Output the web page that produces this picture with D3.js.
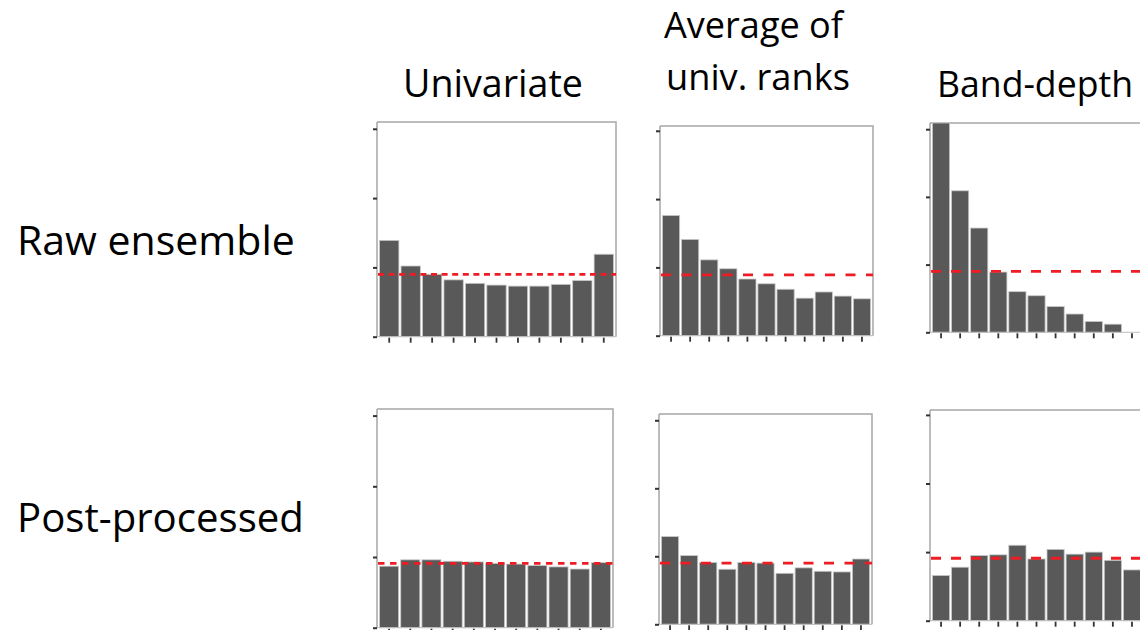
<!DOCTYPE html>
<html>
<head>
<meta charset="utf-8">
<script src="https://cdn.jsdelivr.net/npm/d3@7"></script>
<style>
  html, body { margin: 0; padding: 0; background: #fff; }
  svg { display: block; }
  text { font-family: "Open Sans", "Noto Sans", sans-serif; fill: #000; }
</style>
</head>
<body>
<svg id="chart" width="1140" height="630"></svg>
<script>
// ---------------- data ----------------
const rowTitles = ["Raw ensemble", "Post-processed"];
const colTitles = [["Univariate"], ["Average of", "univ. ranks"], ["Band-depth"]];
const bins = ["1","2","3","4","5","6","7","8","9","10","11"];
const yTicks = [0, 1, 2, 3];

const rawUnivariate = [1.39, 1.02, 0.90, 0.82, 0.77, 0.745, 0.73, 0.73, 0.755, 0.81, 1.19];
const rawAvgRanks   = [1.76, 1.41, 1.11, 0.98, 0.83, 0.76, 0.68, 0.55, 0.64, 0.58, 0.54];
const rawBandDepth  = [3.60, 2.09, 1.54, 0.89, 0.60, 0.54, 0.38, 0.27, 0.16, 0.12, 0.0];
const ppUnivariate  = [0.87, 0.96, 0.96, 0.94, 0.93, 0.91, 0.90, 0.88, 0.86, 0.83, 0.92];
const ppAvgRanks    = [1.29, 1.01, 0.91, 0.81, 0.91, 0.90, 0.75, 0.83, 0.78, 0.77, 0.96];
const ppBandDepth   = [0.66, 0.78, 0.95, 0.96, 1.10, 0.90, 1.04, 0.97, 1.00, 0.88, 0.74];
const uniformLevel  = [0.90, 0.89, 0.90, 0.91, 0.90, 0.91];

const series = [rawUnivariate, rawAvgRanks, rawBandDepth, ppUnivariate, ppAvgRanks, ppBandDepth];

// ---------------- layout ----------------
const panels = [
  {x0: 377, x1: 616, top: 122, base: 336.7, unit: 69.3, dash: "6,4.6"},
  {x0: 660, x1: 873, top: 126, base: 335.7, unit: 68.3, dash: "10,10.5"},
  {x0: 930, x1: 1143, top: 123, base: 332.3, unit: 67.7, dash: "10,10"},
  {x0: 377, x1: 613, top: 409, base: 627.7, unit: 70.7, dash: "6.5,5.5"},
  {x0: 659, x1: 872, top: 414, base: 624.3, unit: 68.0, dash: "10,10.5"},
  {x0: 930, x1: 1143, top: 410, base: 620.7, unit: 68.6, dash: "10,10"}
];

const svg = d3.select("#chart");

panels.forEach((p, i) => {
  const vals = series[i];
  const g = svg.append("g");
  const yMax = (p.base - p.top) / p.unit;
  const x = d3.scaleBand().domain(bins).range([p.x0 + 1.5, p.x1 - 1.5]).paddingInner(0.1).paddingOuter(0.05);
  const y = d3.scaleLinear().domain([0, yMax]).range([p.base, p.top]);

  // frame (top + right)
  g.append("path")
    .attr("d", `M${p.x0},${p.top}H${p.x1}V${p.base}`)
    .attr("fill", "none").attr("stroke", "#a6a6a6").attr("stroke-width", 1.5);

  // bars
  g.selectAll("rect.bar").data(vals).join("rect")
    .attr("class", "bar")
    .attr("x", (d, j) => x(bins[j]))
    .attr("width", x.bandwidth())
    .attr("y", d => y(Math.min(d, yMax)))
    .attr("height", d => y(0) - y(Math.min(d, yMax)))
    .attr("fill", "#595959")
    .attr("stroke", "#c8c8c8")
    .attr("stroke-width", 0.8);

  // baseline
  g.append("line")
    .attr("x1", p.x0).attr("x2", p.x1).attr("y1", p.base).attr("y2", p.base)
    .attr("stroke", "#bdbdbd").attr("stroke-width", 1);

  // left axis
  const yAxis = d3.axisLeft(y).tickValues(yTicks).tickSize(4).tickFormat("");
  const ya = g.append("g").attr("transform", `translate(${p.x0},0)`).call(yAxis);
  ya.select(".domain").attr("stroke", "#a6a6a6").attr("stroke-width", 1.5)
    .attr("d", `M0,${p.top}V${p.base}`);
  ya.selectAll(".tick line").attr("stroke", "#333").attr("stroke-width", 2);

  // bottom axis ticks
  const xAxis = d3.axisBottom(x).tickSize(5).tickFormat("");
  const xa = g.append("g").attr("transform", `translate(0,${p.base + 1})`).call(xAxis);
  xa.select(".domain").remove();
  xa.selectAll(".tick line").attr("stroke", "#333").attr("stroke-width", 1.8);

  // uniform reference line
  g.append("line")
    .attr("x1", p.x0 + 1).attr("x2", p.x1)
    .attr("y1", y(uniformLevel[i])).attr("y2", y(uniformLevel[i]))
    .attr("stroke", "#ee1c24").attr("stroke-width", 2.8)
    .attr("stroke-dasharray", p.dash);
});

// ---------------- titles ----------------
function fitText(sel, targetWidth) {
  const w = sel.node().getComputedTextLength();
  const fs = parseFloat(sel.attr("font-size"));
  sel.attr("font-size", fs * targetWidth / w);
}

const rowPos = [{x: 17, y: 255, w: 278}, {x: 17, y: 532, w: 287}];
rowTitles.forEach((t, i) => {
  const s = svg.append("text").attr("x", rowPos[i].x).attr("y", rowPos[i].y)
    .attr("font-size", 40).text(t);
  fitText(s, rowPos[i].w);
});

const colPos = [
  [{x: 403, y: 97, w: 180}],
  [{x: 664, y: 38, w: 179}, {x: 666, y: 90, w: 184}],
  [{x: 937, y: 97, w: 196}]
];
colTitles.forEach((lines, i) => {
  lines.forEach((t, k) => {
    const s = svg.append("text").attr("x", colPos[i][k].x).attr("y", colPos[i][k].y)
      .attr("font-size", 32).text(t);
    fitText(s, colPos[i][k].w);
  });
});
</script>
</body>
</html>
